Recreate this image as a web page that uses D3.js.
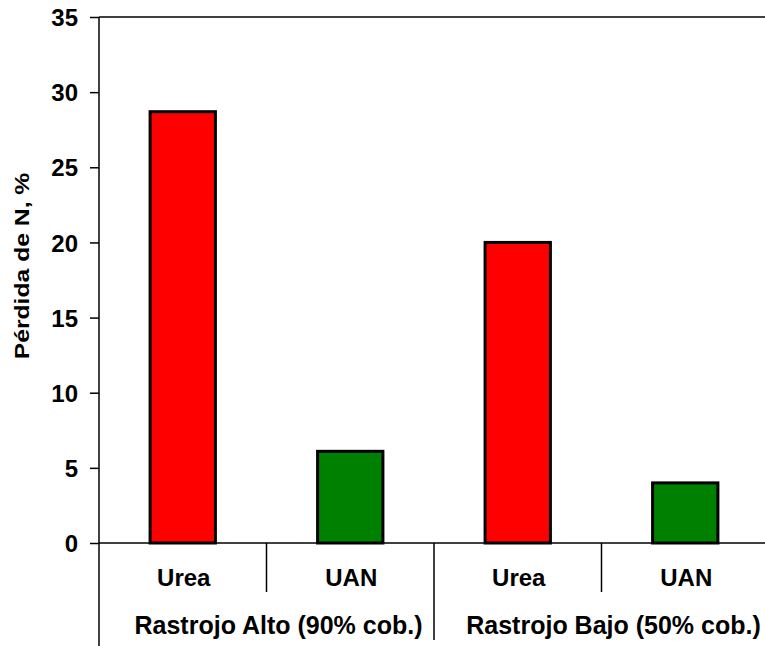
<!DOCTYPE html>
<html>
<head>
<meta charset="utf-8">
<script src="https://cdn.jsdelivr.net/npm/d3@7"></script>
<style>
    body { margin: 0; background: #fff; }
    svg { display: block; }
    text { font-family: "Liberation Sans", Arial, sans-serif; font-weight: bold; fill: #000; }
</style>
</head>
<body>
<div id="chart"></div>
<script>
const groups = ["Rastrojo Alto (90% cob.)", "Rastrojo Bajo (50% cob.)"];
const fertilizers = ["Urea", "UAN"];
const perdidaAlto = [28.7, 6.1];
const perdidaBajo = [20.0, 4.0];
const yTicks = [0, 5, 10, 15, 20, 25, 30, 35];
const barColors = ["#ff0000", "#008000"];

const width = 765, height = 646;
const plot = { left: 99, right: 769, top: 17, bottom: 543 };

const data = [];
[perdidaAlto, perdidaBajo].forEach((vals, g) => {
    vals.forEach((v, i) => {
        data.push({ key: g + "-" + i, group: groups[g], fert: fertilizers[i], value: v, color: barColors[i] });
    });
});

const svg = d3.select("#chart").append("svg")
    .attr("width", width)
    .attr("height", height);

const x = d3.scaleBand()
    .domain(data.map(d => d.key))
    .range([plot.left, plot.right])
    .padding(0);

const y = d3.scaleLinear()
    .domain([0, 35])
    .range([plot.bottom, plot.top]);

// top border
svg.append("line")
    .attr("x1", plot.left).attr("x2", plot.right)
    .attr("y1", y(35)).attr("y2", y(35))
    .attr("stroke", "#000").attr("stroke-width", 1.5);

// y axis
const yAxis = svg.append("g")
    .attr("transform", `translate(${plot.left},0)`)
    .call(d3.axisLeft(y).tickValues(yTicks).tickSize(9).tickPadding(12).tickFormat(d3.format("d")));
yAxis.select(".domain").remove();
yAxis.selectAll(".tick line").attr("stroke", "#000").attr("stroke-width", 1.5);
yAxis.selectAll(".tick text")
    .style("font-size", "24px")
    .style("font-family", "'Liberation Sans', Arial, sans-serif")
    .style("font-weight", "bold")
    .attr("dy", "0.36em");

svg.append("line")
    .attr("x1", plot.left).attr("x2", plot.left)
    .attr("y1", plot.top).attr("y2", height)
    .attr("stroke", "#000").attr("stroke-width", 1.5);

// bars
const barW = x.bandwidth() * 0.39;
svg.selectAll(".bar")
    .data(data)
    .enter().append("rect")
    .attr("class", "bar")
    .attr("x", d => x(d.key) + x.bandwidth() / 2 - barW / 2)
    .attr("y", d => y(d.value))
    .attr("width", barW)
    .attr("height", d => y(0) - y(d.value))
    .attr("fill", d => d.color)
    .attr("stroke", "#000")
    .attr("stroke-width", 3);

// x axis baseline
svg.append("line")
    .attr("x1", plot.left).attr("x2", plot.right)
    .attr("y1", y(0)).attr("y2", y(0))
    .attr("stroke", "#000").attr("stroke-width", 1.5);

// separators between fertilizers and groups
groups.forEach((g, gi) => {
    const xs = x(gi + "-1");
    svg.append("line")
        .attr("x1", xs).attr("x2", xs)
        .attr("y1", y(0)).attr("y2", 592)
        .attr("stroke", "#000").attr("stroke-width", 1.5);
    if (gi > 0) {
        const xg = x(gi + "-0");
        svg.append("line")
            .attr("x1", xg).attr("x2", xg)
            .attr("y1", y(0)).attr("y2", 640)
            .attr("stroke", "#000").attr("stroke-width", 1.5);
    }
});

// fertilizer labels
svg.selectAll(".fert-label")
    .data(data)
    .enter().append("text")
    .attr("class", "fert-label")
    .attr("x", d => x(d.key) + x.bandwidth() / 2 + 1)
    .attr("y", 586)
    .attr("text-anchor", "middle")
    .style("font-size", "24px")
    .text(d => d.fert);

// group labels
svg.selectAll(".group-label")
    .data(groups)
    .enter().append("text")
    .attr("class", "group-label")
    .attr("x", (d, i) => x(i + "-1") + 12)
    .attr("y", 634)
    .attr("text-anchor", "middle")
    .style("font-size", "25px")
    .text(d => d);

// y label
svg.append("text")
    .attr("transform", "translate(29,266) rotate(-90) scale(1,0.8)")
    .attr("text-anchor", "middle")
    .style("font-size", "24.7px")
    .text("Pérdida de N, %");
</script>
</body>
</html>
